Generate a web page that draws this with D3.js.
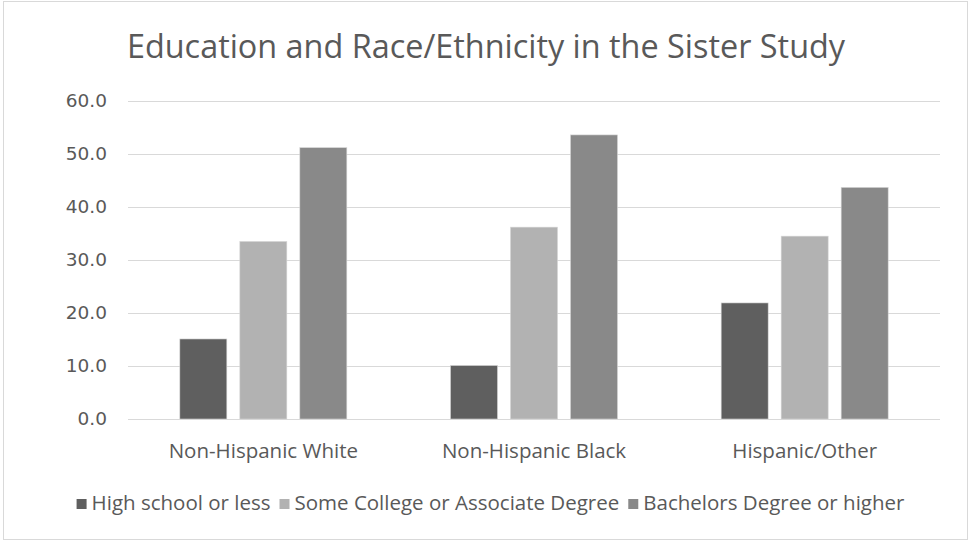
<!DOCTYPE html>
<html>
<head>
<meta charset="utf-8">
<script src="https://cdn.jsdelivr.net/npm/d3@7"></script>
<style>
  html, body { margin: 0; padding: 0; background: #fff; }
  svg { display: block; }
</style>
</head>
<body>
<svg id="chart" width="969" height="542"></svg>
<script>
// ---- data ----
const categories = ["Non-Hispanic White", "Non-Hispanic Black", "Hispanic/Other"];
const seriesNames = ["High school or less", "Some College or Associate Degree", "Bachelors Degree or higher"];
const highSchool = [15.1, 10.1, 21.9];
const someCollege = [33.5, 36.2, 34.5];
const bachelors = [51.2, 53.6, 43.7];
const yTicks = [0, 10, 20, 30, 40, 50, 60];
const titleText = "Education and Race/Ethnicity in the Sister Study";

const seriesValues = [highSchool, someCollege, bachelors];
const colors = ["#5f5f5f", "#b2b2b2", "#898989"];

const svg = d3.select("#chart");
const W = 969, H = 542;
const margin = { left: 128, right: 29, top: 101, bottom: 123 };
const plotL = margin.left, plotR = W - margin.right;
const plotT = margin.top, plotB = H - margin.bottom;

// frame
svg.append("rect")
  .attr("x", 3.5).attr("y", 1.5).attr("width", W - 5).attr("height", H - 4)
  .attr("fill", "#fff").attr("stroke", "#d9d9d9").attr("stroke-width", 1);

// title
svg.append("text")
  .attr("x", 486).attr("y", 58)
  .attr("text-anchor", "middle")
  .attr("font-family", "'Open Sans', sans-serif")
  .attr("font-size", 32.4)
  .attr("fill", "#595959")
  .text(titleText);

// scales
const y = d3.scaleLinear().domain([0, 60]).range([plotB, plotT]);
const x0 = d3.scaleBand().domain(categories).range([plotL, plotR]).padding(0);
const groupW = 167;
const x1 = d3.scaleBand().domain(seriesNames)
  .range([(x0.bandwidth() - groupW) / 2, (x0.bandwidth() + groupW) / 2])
  .paddingInner(13 / 60).paddingOuter(0);

// gridlines
const yAxis = d3.axisLeft(y).tickValues(yTicks).tickSize(-(plotR - plotL)).tickFormat(d3.format(".1f"));
const gy = svg.append("g").attr("transform", `translate(${plotL},0)`).call(yAxis);
gy.select(".domain").remove();
gy.selectAll(".tick line").attr("stroke", "#d9d9d9").attr("stroke-width", 1);
gy.selectAll(".tick text")
  .attr("x", -21)
  .attr("fill", "#595959")
  .attr("font-family", "'DejaVu Sans', sans-serif")
  .attr("font-size", 18.5);

// bars
const groups = svg.append("g").selectAll("g")
  .data(categories)
  .join("g")
  .attr("transform", d => `translate(${x0(d)},0)`);

groups.selectAll("rect")
  .data((d, i) => seriesNames.map((s, j) => ({ s, j, v: seriesValues[j][i] })))
  .join("rect")
  .attr("x", d => x1(d.s))
  .attr("width", x1.bandwidth())
  .attr("y", d => y(d.v))
  .attr("height", d => y(0) - y(d.v))
  .attr("fill", d => colors[d.j])
  .attr("stroke", "#d6d6d6")
  .attr("stroke-width", 0.6);

// x axis labels
const xAxis = d3.axisBottom(x0).tickSize(0).tickPadding(0);
const gx = svg.append("g").attr("transform", `translate(0,${plotB})`).call(xAxis);
gx.select(".domain").remove();
gx.selectAll(".tick text")
  .attr("y", 39)
  .attr("dy", 0)
  .attr("fill", "#595959")
  .attr("font-family", "'Open Sans', sans-serif")
  .attr("font-size", 20.5);

// legend
const legend = svg.append("g");
const items = legend.selectAll("g").data(seriesNames).join("g");
items.append("rect")
  .attr("width", 10).attr("height", 10)
  .attr("fill", (d, i) => colors[i]);
items.append("text")
  .attr("x", 15).attr("y", 10.5)
  .attr("fill", "#595959")
  .attr("font-family", "'Open Sans', sans-serif")
  .attr("font-size", 20.5)
  .text(d => d);
let widths = [];
items.each(function () { widths.push(15 + d3.select(this).select("text").node().getComputedTextLength()); });
const gap = 9;
const total = d3.sum(widths) + gap * (widths.length - 1);
let cx = 490.5 - total / 2;
items.attr("transform", (d, i) => {
  const t = `translate(${cx},${499})`;
  cx += widths[i] + gap;
  return t;
});
</script>
</body>
</html>
